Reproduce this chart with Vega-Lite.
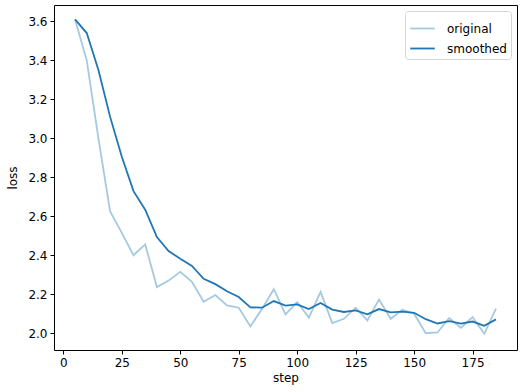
{
  "$schema": "https://vega.github.io/schema/vega-lite/v6.json",
  "autosize": {"type": "none"},
  "width": 463,
  "height": 345,
  "padding": {"left": 54, "top": 5, "right": 11, "bottom": 42},
  "background": "white",
  "config": {
    "font": "DejaVu Sans",
    "view": {"stroke": "#000000", "strokeWidth": 1},
    "axis": {
      "domain": false,
      "grid": false,
      "tickColor": "#000000",
      "tickSize": 4,
      "tickWidth": 1,
      "labelColor": "#000000",
      "labelFontSize": 12,
      "labelFont": "DejaVu Sans",
      "titleFont": "DejaVu Sans",
      "titleFontSize": 12,
      "titleFontWeight": "normal",
      "titleColor": "#000000"
    }
  },
  "data": {
    "values": [
      {"step": 5, "original": 3.61, "smoothed": 3.61},
      {"step": 10, "original": 3.40, "smoothed": 3.54},
      {"step": 15, "original": 3.00, "smoothed": 3.35},
      {"step": 20, "original": 2.625, "smoothed": 3.11},
      {"step": 25, "original": 2.515, "smoothed": 2.905},
      {"step": 30, "original": 2.40, "smoothed": 2.729},
      {"step": 35, "original": 2.456, "smoothed": 2.634},
      {"step": 40, "original": 2.237, "smoothed": 2.493},
      {"step": 45, "original": 2.27, "smoothed": 2.422},
      {"step": 50, "original": 2.315, "smoothed": 2.382},
      {"step": 55, "original": 2.264, "smoothed": 2.345},
      {"step": 60, "original": 2.162, "smoothed": 2.279},
      {"step": 65, "original": 2.196, "smoothed": 2.252},
      {"step": 70, "original": 2.143, "smoothed": 2.215},
      {"step": 75, "original": 2.131, "smoothed": 2.186},
      {"step": 80, "original": 2.035, "smoothed": 2.133},
      {"step": 85, "original": 2.126, "smoothed": 2.131},
      {"step": 90, "original": 2.226, "smoothed": 2.165},
      {"step": 95, "original": 2.097, "smoothed": 2.142},
      {"step": 100, "original": 2.16, "smoothed": 2.148},
      {"step": 105, "original": 2.08, "smoothed": 2.124},
      {"step": 110, "original": 2.212, "smoothed": 2.155},
      {"step": 115, "original": 2.052, "smoothed": 2.121},
      {"step": 120, "original": 2.074, "smoothed": 2.109},
      {"step": 125, "original": 2.131, "smoothed": 2.117},
      {"step": 130, "original": 2.066, "smoothed": 2.097},
      {"step": 135, "original": 2.173, "smoothed": 2.124},
      {"step": 140, "original": 2.074, "smoothed": 2.107},
      {"step": 145, "original": 2.121, "smoothed": 2.111},
      {"step": 150, "original": 2.10, "smoothed": 2.105},
      {"step": 155, "original": 2.0, "smoothed": 2.072},
      {"step": 160, "original": 2.004, "smoothed": 2.05},
      {"step": 165, "original": 2.078, "smoothed": 2.062},
      {"step": 170, "original": 2.028, "smoothed": 2.049},
      {"step": 175, "original": 2.083, "smoothed": 2.06},
      {"step": 180, "original": 1.997, "smoothed": 2.038},
      {"step": 185, "original": 2.126, "smoothed": 2.071}
    ]
  },
  "transform": [
    {"fold": ["original", "smoothed"], "as": ["series", "loss"]}
  ],
  "mark": {"type": "line", "strokeWidth": 1.8, "clip": true},
  "encoding": {
    "x": {
      "field": "step",
      "type": "quantitative",
      "scale": {"domain": [-4, 194], "nice": false, "zero": false},
      "axis": {"title": "step", "values": [0, 25, 50, 75, 100, 125, 150, 175], "labelPadding": 3, "titlePadding": 4}
    },
    "y": {
      "field": "loss",
      "type": "quantitative",
      "scale": {"domain": [1.914, 3.684], "nice": false, "zero": false},
      "axis": {"title": "loss", "values": [2.0, 2.2, 2.4, 2.6, 2.8, 3.0, 3.2, 3.4, 3.6], "format": ".1f", "labelPadding": 3, "titlePadding": 8}
    },
    "color": {
      "field": "series",
      "type": "nominal",
      "scale": {"domain": ["original", "smoothed"], "range": ["#a5c9e1", "#1f77b4"]},
      "legend": {
        "title": null,
        "orient": "top-right",
        "offset": 6,
        "symbolType": "stroke",
        "symbolSize": 600,
        "symbolStrokeWidth": 1.8,
        "labelFontSize": 12,
        "labelColor": "#000000",
        "labelFont": "DejaVu Sans",
        "labelOffset": 11,
        "rowPadding": -4.5,
        "padding": 4,
        "fillColor": "white",
        "strokeColor": "#d5d5d5",
        "cornerRadius": 3
      }
    }
  }
}
